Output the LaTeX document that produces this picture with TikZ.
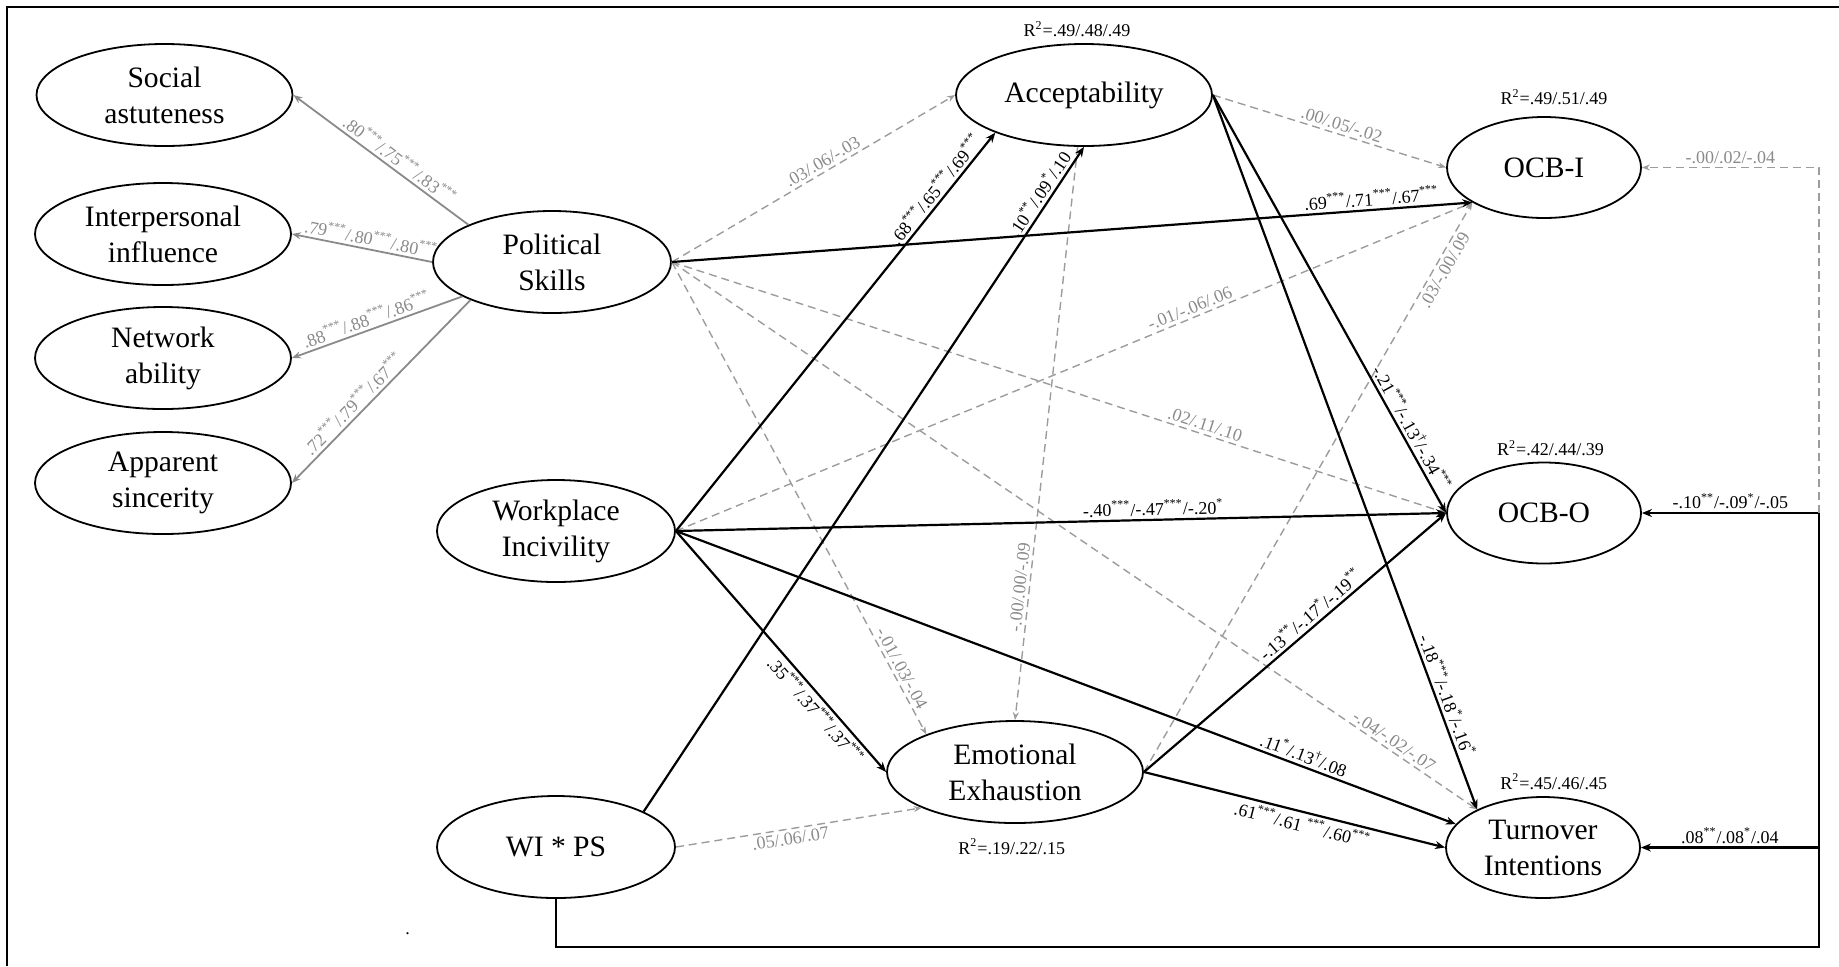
\documentclass[tikz,border=0pt]{standalone}
\usepackage{fontspec}
\setmainfont{Liberation Serif}
\usepackage{xcolor}
\usepackage{tikz}
\usetikzlibrary{shapes.geometric}
\usetikzlibrary{arrows.meta}

\definecolor{loadgray}{HTML}{8A8A8A}
\definecolor{dashgray}{HTML}{9C9C9C}
\newcommand{\sig}[1]{\textsuperscript{#1}}

\begin{document}
\begin{tikzpicture}[
  x=0.5pt, y=-0.5pt,
  latent/.style={draw, ellipse, line width=0.9pt, inner sep=0pt, align=center, font=\fontsize{14.8}{18}\selectfont},
  bigvar/.style={latent, minimum width=128pt, minimum height=51pt},
  midvar/.style={latent, minimum width=119pt, minimum height=51pt},
  smallvar/.style={latent, minimum width=97pt, minimum height=50.5pt},
  lbl/.style={font=\fontsize{9}{10}\selectfont, inner sep=1.5pt},
  glbl/.style={lbl, text=loadgray},
  rsq/.style={lbl, inner sep=0pt},
  load/.style={draw=loadgray, line width=0.9pt, {Stealth[length=4.5pt, width=3.5pt]}-},
  sigpath/.style={draw, line width=1.1pt, -{Stealth[length=5pt, width=4pt]}},
  nspath/.style={draw=dashgray, line width=0.7pt, dash pattern=on 4pt off 2.5pt, -{Stealth[length=4pt, width=3pt]}}
]
\useasboundingbox (0,0) rectangle (1839,966);
\draw[line width=0.8pt] (1839,7) -- (7,7) -- (7,966);

\node[bigvar] (social)   at (164.5, 95) {Social\\astuteness};
\node[bigvar] (interp)   at (163, 234)  {Interpersonal\\influence};
\node[bigvar] (network)  at (163, 358)  {Network\\ability};
\node[bigvar] (sincere)  at (163, 483)  {Apparent\\sincerity};
\node[midvar] (polskill) at (552, 262)  {Political\\Skills};
\node[midvar] (incivil)  at (556, 531)  {Workplace\\Incivility};
\node[midvar] (inter)    at (556, 847)  {WI * PS};
\node[bigvar] (accept)   at (1084, 95)  {Acceptability};
\node[bigvar] (exhaust)  at (1015, 772) {Emotional\\Exhaustion};
\node[smallvar] (ocbi)     at (1544, 167.5) {OCB-I};
\node[smallvar] (ocbo)     at (1544, 513)   {OCB-O};
\node[smallvar] (turnover) at (1543, 847.5) {Turnover\\Intentions};

\node[rsq] (r2accept)  at (1077, 29)     {R\sig{2}=.49/.48/.49};
\node[rsq] (r2ocbi)    at (1554, 97)     {R\sig{2}=.49/.51/.49};
\node[rsq] (r2ocbo)    at (1550.5, 448)  {R\sig{2}=.42/.44/.39};
\node[rsq] (r2turn)    at (1553.7, 781.7) {R\sig{2}=.45/.46/.45};
\node[rsq] (r2exhaust) at (1011.7, 846.7) {R\sig{2}=.19/.22/.15};
\node[rsq] (dot) at (407.6, 934) {.};

\draw[load] (social.east)  -- node[glbl, sloped, above, pos=0.57] {.80\sig{***}/.75\sig{***}/.83\sig{***}} (polskill.156);
\draw[load] (interp.east)  -- node[glbl, sloped, above, pos=0.55] {.79\sig{***}/.80\sig{***}/.80\sig{***}} (polskill.west);
\draw[load] (network.east) -- node[glbl, sloped, above, pos=0.46] {.88\sig{***}/.88\sig{***}/.86\sig{***}} (polskill.201);
\draw[load] (sincere.east) -- node[glbl, sloped, above, pos=0.39] {.72\sig{***}/.79\sig{***}/.67\sig{***}} (polskill.205);

\draw[nspath] (polskill.east) -- node[glbl, sloped, above, pos=0.55] {.03/.06/-.03} (accept.west);
\draw[nspath] (polskill.east) -- node[glbl, sloped, above, pos=0.685] {.02/.11/.10} (ocbo.west);
\draw[nspath] (polskill.east) -- node[glbl, sloped, above, pos=0.87] {-.01/.03/-.04} (exhaust.157);
\draw[nspath] (polskill.east) -- node[glbl, sloped, above, pos=0.89] {-.04/-.02/-.07} (turnover.150);
\draw[nspath] (incivil.east)  -- node[glbl, sloped, above, pos=0.65] {-.01/-.06/.06} (ocbi.206);
\draw[nspath] (inter.east)    -- node[glbl, sloped, below, pos=0.46] {.05/.06/.07} (exhaust.201);
\draw[nspath] (accept.east)   -- node[glbl, sloped, above, pos=0.54] {.00/.05/-.02} (ocbi.west);
\draw[nspath] (accept.263)    -- node[glbl, sloped, above, pos=0.77] {-.00/.00/-.09} (exhaust.north);
\draw[nspath] (exhaust.east)  -- node[glbl, sloped, below, pos=0.89] {.03/-.00/.09} (ocbi.206);

\draw[sigpath] (polskill.east) -- node[lbl, sloped, above, pos=0.875] {.69\sig{***}/.71\sig{***}/.67\sig{***}} (ocbi.206);
\draw[sigpath] (incivil.east) -- node[lbl, sloped, above, pos=0.84] {.68\sig{***}/.65\sig{***}/.69\sig{***}} (accept.203);
\draw[sigpath] (incivil.east) -- node[lbl, sloped, above, pos=0.62] {-.40\sig{***}/-.47\sig{***}/-.20\sig{*}} (ocbo.west);
\draw[sigpath] (incivil.east) -- node[lbl, sloped, below, pos=0.71] {.35\sig{***}/.37\sig{***}/.37\sig{***}} (exhaust.west);
\draw[sigpath] (incivil.east) -- node[lbl, sloped, above, pos=0.80] {.11\sig{*}/.13\sig{\textdagger}/.08} (turnover.165);
\draw[sigpath] (inter.22) -- node[lbl, sloped, above, pos=0.92] {.10\sig{**}/.09\sig{*}/.10} (accept.south);
\draw[sigpath] (accept.east) -- node[lbl, sloped, above, pos=0.81] {-.21\sig{***}/-.13\sig{\textdagger}/-.34\sig{***}} (ocbo.west);
\draw[sigpath] (accept.east) -- node[lbl, sloped, above, pos=0.846] {-.18\sig{***}/-.18\sig{*}/-.16\sig{*}} (turnover.150);
\draw[sigpath] (exhaust.east) -- node[lbl, sloped, above, pos=0.574] {-.13\sig{**}/-.17\sig{*}/-.19\sig{**}} (ocbo.west);
\draw[sigpath] (exhaust.east) -- node[lbl, sloped, below, pos=0.536] {.61\sig{***}/.61 \sig{***}/.60\sig{***}} (turnover.west);

\coordinate (bendl) at (556, 947);
\coordinate (bendr) at (1819, 947);
\draw[line width=1.1pt] (inter.south) -- (bendl) -- (bendr) -- (bendr |- ocbo.east);
\draw[sigpath] (bendr |- turnover.east) -- node[lbl, above] {.08\sig{**}/.08\sig{*}/.04} (turnover.east);
\draw[sigpath] (bendr |- ocbo.east) -- node[lbl, above] {-.10\sig{**}/-.09\sig{*}/-.05} (ocbo.east);
\draw[nspath] (bendr |- ocbo.east) -- (bendr |- ocbi.east) -- node[glbl, above] {-.00/.02/-.04} (ocbi.east);
\end{tikzpicture}
\end{document}
